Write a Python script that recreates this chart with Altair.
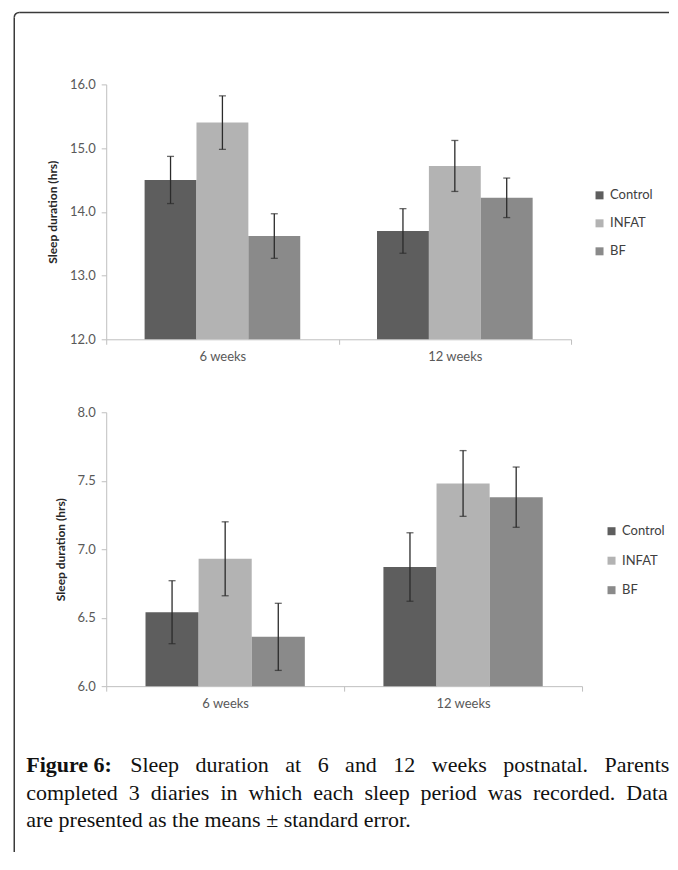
import altair as alt
import pandas as pd

weeks = ["6 weeks", "12 weeks"]
groups = ["Control", "INFAT", "BF"]
colors = ["#5e5e5e", "#b3b3b3", "#8a8a8a"]

# Top panel (total sleep duration, hrs): values for [6 weeks, 12 weeks]
top_control = [14.50, 13.70]
top_infat = [15.40, 14.72]
top_bf = [13.62, 14.22]
top_control_se = [0.37, 0.35]
top_infat_se = [0.42, 0.40]
top_bf_se = [0.35, 0.31]
top_ticks = [12.0, 13.0, 14.0, 15.0, 16.0]

# Bottom panel
bot_control = [6.54, 6.87]
bot_infat = [6.93, 7.48]
bot_bf = [6.36, 7.38]
bot_control_se = [0.23, 0.25]
bot_infat_se = [0.27, 0.24]
bot_bf_se = [0.245, 0.22]
bot_ticks = [6.0, 6.5, 7.0, 7.5, 8.0]

y_title = "Sleep duration (hrs)"
cap_bold = "Figure 6:"
NB = "\u00a0"
cap_line1 = (" " + NB * 2).join(["Sleep", "duration", "at", "6", "and", "12", "weeks", "postnatal.", "Parents"])
cap_line2 = (" " + NB).join(["completed", "3", "diaries", "in", "which", "each", "sleep", "period", "was", "recorded.", "Data"])
cap_line3 = "are presented as the means \u00b1 standard error."


def make_df(means, ses):
    rows = []
    for g, m, s in zip(groups, means, ses):
        for w, mv, sv in zip(weeks, m, s):
            rows.append({"week": w, "group": g, "mean": mv, "lo": mv - sv, "hi": mv + sv})
    return pd.DataFrame(rows)


one = pd.DataFrame({"k": [0]})


def panel(df, ticks, w, h, lx, ly, rowpad, extra=None):
    dom = [ticks[0], ticks[-1]]
    x = alt.X("week:N", sort=weeks, scale=alt.Scale(paddingInner=0, paddingOuter=0),
              axis=alt.Axis(title=None, labelAngle=0, tickBand="extent", tickSize=5, labelPadding=6))
    xoff = alt.XOffset("group:N", sort=groups, scale=alt.Scale(paddingOuter=0.74, paddingInner=0))
    yax = alt.Axis(values=ticks, format=".1f", title=y_title, tickSize=5, labelPadding=6, titlePadding=10)
    yscale = alt.Scale(domain=dom, zero=False, nice=False)
    base = alt.Chart(df)
    bars = base.mark_bar().encode(
        x=x, xOffset=xoff,
        y=alt.Y("mean:Q", scale=yscale, axis=yax),
        y2=alt.datum(dom[0]),
        color=alt.Color("group:N", scale=alt.Scale(domain=groups, range=colors),
                        legend=alt.Legend(title=None, orient="none", legendX=lx, legendY=ly,
                                          symbolType="square", symbolSize=64, symbolStrokeWidth=0,
                                          labelFont="Lato", labelFontSize=13, labelColor="#404040",
                                          rowPadding=rowpad, padding=0, labelOffset=4)),
    )
    errs = base.mark_rule(color="#2b2b2b", strokeWidth=1.3).encode(
        x=x, xOffset=xoff, y=alt.Y("lo:Q", scale=yscale, axis=yax), y2="hi:Q")
    caps = base.transform_fold(["lo", "hi"], as_=["end", "val"]).mark_tick(
        color="#2b2b2b", size=7, thickness=1.3).encode(
        x=x, xOffset=xoff, y=alt.Y("val:Q", scale=yscale, axis=yax))
    layers = [bars, errs, caps]
    if extra:
        layers += extra
    return alt.layer(*layers).properties(width=w, height=h)


frame_col = "#3a3a3a"
frame = [
    alt.Chart(one).mark_rule(color=frame_col, strokeWidth=1.5).encode(
        x=alt.value(-92), y=alt.value(-67), y2=alt.value(768)),
    alt.Chart(one).mark_rule(color=frame_col, strokeWidth=1.5).encode(
        x=alt.value(-87), x2=alt.value(563), y=alt.value(-72)),
    alt.Chart(one).mark_arc(color=frame_col, theta=4.7124, theta2=6.2832,
                            radius=5.75, radius2=4.25).encode(
        x=alt.value(-87), y=alt.value(-67)),
]

serif = "Liberation Serif"
caption = [
    alt.Chart(one).mark_text(text=cap_bold, font=serif, fontSize=22, fontWeight="bold",
                             align="left", baseline="alphabetic", color="#111111").encode(
        x=alt.value(-80), y=alt.value(359.7)),
    alt.Chart(one).mark_text(text=cap_line1, font=serif, fontSize=22,
                             align="left", baseline="alphabetic", color="#111111").encode(
        x=alt.value(24), y=alt.value(359.7)),
    alt.Chart(one).mark_text(text=cap_line2, font=serif, fontSize=22,
                             align="left", baseline="alphabetic", color="#111111").encode(
        x=alt.value(-80), y=alt.value(387.5)),
    alt.Chart(one).mark_text(text=cap_line3, font=serif, fontSize=22,
                             align="left", baseline="alphabetic", color="#111111").encode(
        x=alt.value(-80), y=alt.value(415.3)),
]

top = panel(make_df([top_control, top_infat, top_bf], [top_control_se, top_infat_se, top_bf_se]),
            top_ticks, 465, 255, 487, 104.5, 14, extra=frame)
bottom = panel(make_df([bot_control, bot_infat, bot_bf], [bot_control_se, bot_infat_se, bot_bf_se]),
               bot_ticks, 476, 274, 499, 112.5, 15.5, extra=caption)

chart = alt.vconcat(top, bottom, spacing=73, bounds="flush").resolve_scale(
    color="independent", x="independent", y="independent", xOffset="independent"
).properties(
    padding={"left": 5.25, "top": 3.25, "right": 0, "bottom": 0}
).configure_view(stroke=None).configure_axis(
    domainColor="#bfbfbf", tickColor="#bfbfbf", domainWidth=1, tickWidth=1,
    labelFont="Lato", labelFontSize=13, labelColor="#595959",
    titleFont="Lato", titleFontSize=12, titleFontWeight="bold", titleColor="#262626",
    grid=False,
)

chart.save("out.html", embed_options={"renderer": "svg", "actions": False})
